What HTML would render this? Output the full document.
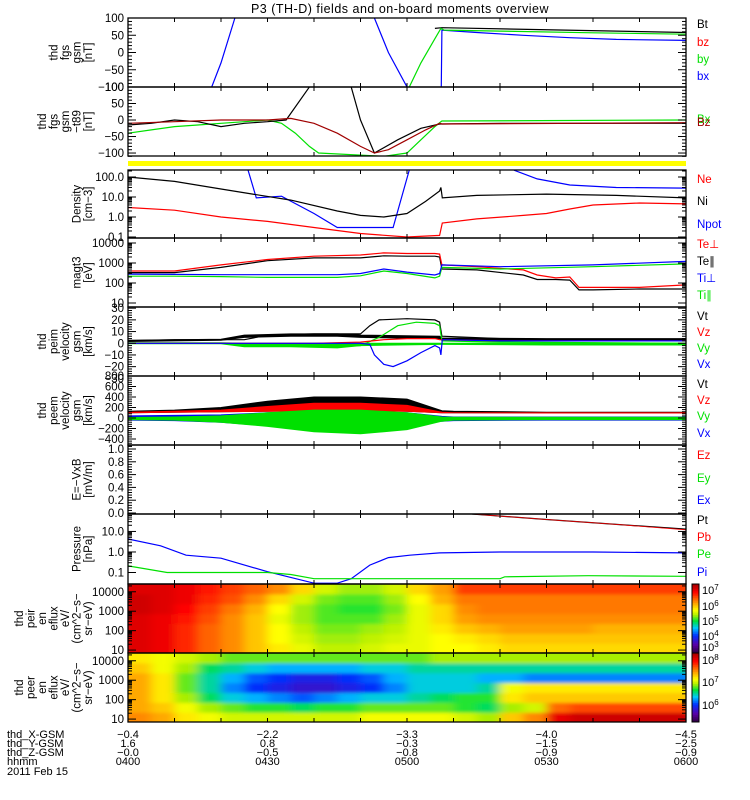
<!DOCTYPE html>
<html><head><meta charset="utf-8"><title>THEMIS overview</title>
<style>
html,body{margin:0;padding:0;background:#fff;}
svg{display:block;font-family:"Liberation Sans",sans-serif;}
</style></head>
<body>
<svg id="chart" width="750" height="800" viewBox="0 0 750 800" xmlns="http://www.w3.org/2000/svg">
<rect width="750" height="800" fill="#fff"/>
<text x="400" y="13" font-size="12.5" text-anchor="middle" letter-spacing="0.5">P3 (TH-D) fields and on-board moments overview</text>
<g id="specs"></g><g id="lines"></g><g id="axes"></g><g id="labels"></g>
</svg>
<script>
// ---------- data arrays ----------
// time in minutes after 04:00
const p1BxT=[0,18,20,23,26,30,40,50,53,56,60,62,67.3,67.5,75,85,95,105,120];
const p1BxV=[-300,-100,-30,100,200,300,350,250,100,0,-100,-200,-200,65,58,50,43,38,35];
const p1ByT=[0,55,60.5,63,66,67.3,68,80,100,120];
const p1ByV=[-300,-300,-100,-30,40,70,65,62,57,53];
const p1BtT=[66,67.5,120];
const p1BtV=[70,72,58];
const p2BtT=[0,5,10,15,20,25,30,34,39,42,46,50,53,58,63,67,67.5,80,120];
const p2BtV=[-15,-10,0,-5,-20,-10,-5,0,100,200,200,0,-100,-60,-25,-12,-12,-10,-10];
const p2BzT=[0,10,20,30,35,40,45,50,53,56,60,64,67,67.5,120];
const p2BzV=[-10,-5,0,0,5,-10,-40,-80,-100,-90,-60,-30,-10,-12,-8];
const p2BxT=[0,5,10,15,20,25,30,33,36,39,41,55,60,63,66,67.3,67.5,120];
const p2BxV=[-40,-30,-20,-15,-10,-5,0,-10,-40,-80,-100,-110,-100,-60,-20,-5,-3,0];
const niT=[0,10,20,26,35,45,50,55,60,64,67,67.3,67.6,75,90,105,120];
const niV=[100,60,25,15,7,2,1.2,1.0,1.5,6,20,30,9,12,14,12,9];
const neT=[0,10,20,30,40,50,60,67,67.6,75,85,90,95,100,110,120];
const neV=[3,2.2,1,0.6,0.3,0.15,0.1,0.12,0.5,0.8,1.2,1.5,2.5,4,5,4.5];
const npot1T=[25.8,27.6,33,40,45,57,60.5];
const npot1V=[224,9,11,1.5,0.3,0.3,224];
const npot2T=[83,88,95,105,120];
const npot2V=[220,80,40,30,28];
const tempT=[0,10,20,30,40,50,55,60,66,67,67.5,75,85,88,92,95,97,100,110,120];
const tePerpV=[400,400,800,1500,2200,2500,3200,3000,3000,2800,800,650,450,250,180,200,60,60,60,80];
const teParV=[330,330,600,1300,1800,1800,2300,2200,2200,2000,500,450,250,150,150,140,45,45,50,50];
const tiT=[0,10,20,30,40,45,50,55,60,66,67,67.5,80,100,120];
const tiPerpV=[280,270,260,260,260,260,300,500,350,250,300,800,650,800,1200];
const tiParV=[220,220,210,190,190,190,230,400,300,180,220,600,500,650,900];
const vtT=[0,10,20,25,30,40,45,50,52,54,60,66,67,67.5,80,100,120];
const vtV=[2,3,3,3,7,8,8,8,15,20,21,20,18,6,4,3,3];
const vzT=[0,20,40,50,55,60,66,67,80,120];
const vzV=[0,0,0,1,3,4,4,3,2,2];
const vyT=[0,20,30,40,50,54,58,62,66,67,67.5,80,120];
const vyV=[0,0,-1,-2,-2,5,15,18,17,15,2,1,0];
const vxT=[0,40,50,52,53,55,57,60,63,66,67,67.3,67.6,80,120];
const vxV=[0,0,0,-1,-10,-18,-20,-15,-8,-2,-4,-10,3,2,2];
const noiseT=[0,20,25,35,45,50,67,67.5,90,120];
const vtHi=[2.5,3.5,7,8,8,7,6,4.5,4,4];
const vtLo=[1.5,2.5,5,6,6,5,4,3,2.5,2.5];
const vyLo=[-0.5,-0.5,-3,-3,-4,-2,-1,-1,-1.5,-1.5];
const vyHi=[0.5,0.5,0,0,0,0,0,0,0,0];
const eT=[0,10,20,30,40,50,60,67.5,70,90,120];
const eeVtHi=[130,150,200,320,400,400,360,140,130,110,110];
const eeVtLo=[100,110,120,130,140,140,130,100,100,100,100];
const eeVzHi=[110,130,150,220,280,280,240,110,100,95,95];
const eeVxLo=[-40,-50,-80,-150,-200,-180,-130,-60,-50,-40,-40];
const eeVxHi=[40,50,60,100,120,120,100,30,20,20,20];
const eeVyLo=[-30,-40,-80,-160,-260,-300,-220,-60,-40,-30,-30];
const eeVyHi=[10,20,40,100,150,150,100,20,15,15,15];
const ptT=[74,90,105,120];
const ptV=[71,38,22,13];
const pbV=[71,38,22,12];
const piT=[0,7,12.5,20,30,40,45,48,52,56,60.6,67,80,100,120];
const piV=[4.3,2.0,0.7,0.5,0.11,0.03,0.03,0.05,0.23,0.53,0.7,0.9,1.0,1.0,0.9];
const peT=[0,8.4,20,30,35,40,60,80,81,99,120];
const peV=[0.21,0.1,0.1,0.1,0.08,0.05,0.05,0.05,0.062,0.07,0.065];
// spectrogram: 24 time bins (5 min), rows low->high energy, log10 eflux
const ionSpec=[
[6.9,6.8,6.5,6.2,6.0,5.7,5.5,5.3,5.1,5.1,5.2,5.3,5.3,5.4,5.4,5.5,5.6,5.6,5.6,5.6,5.6,5.6,5.6,5.6],
[6.9,6.8,6.5,6.2,6.0,5.7,5.4,5.2,5.0,5.0,5.1,5.2,5.3,5.4,5.5,5.6,5.7,5.7,5.7,5.7,5.7,5.7,5.7,5.7],
[6.9,6.8,6.5,6.2,6.0,5.7,5.4,5.1,4.9,4.9,5.0,5.1,5.3,5.5,5.7,5.8,5.9,5.9,5.9,5.9,5.8,5.8,5.8,5.8],
[6.9,6.8,6.6,6.3,6.0,5.7,5.3,5.0,4.8,4.8,4.8,5.0,5.3,5.6,5.9,6.0,6.0,6.0,6.0,6.0,6.0,6.0,6.0,6.0],
[7.0,6.9,6.7,6.4,6.1,5.8,5.4,5.0,4.8,4.7,4.7,4.9,5.3,5.6,6.0,6.1,6.1,6.1,6.1,6.1,6.1,6.1,6.1,6.1],
[7.0,6.9,6.8,6.5,6.3,6.0,5.6,5.2,4.9,4.8,4.8,5.0,5.4,5.8,6.1,6.1,6.1,6.1,6.1,6.1,6.1,6.1,6.1,6.1],
[6.9,6.9,6.8,6.6,6.4,6.2,6.0,5.6,5.2,5.0,5.0,5.2,5.6,5.9,6.4,6.4,6.4,6.4,6.4,6.4,6.4,6.4,6.4,6.4]];
const eleSpec=[
[7.4,7.3,7.1,7.0,6.9,6.9,6.9,6.9,6.9,6.9,7.0,7.0,7.0,7.0,6.9,6.8,7.2,7.4,7.9,8.0,8.0,8.0,8.0,8.0],
[7.3,7.2,7.0,6.8,6.7,6.6,6.6,6.5,6.6,6.6,6.7,6.7,6.7,6.7,6.6,6.5,6.8,6.9,7.5,7.6,7.6,7.6,7.6,7.6],
[7.3,7.1,6.8,6.5,6.3,6.2,6.1,6.0,6.1,6.2,6.3,6.3,6.4,6.5,6.6,6.6,7.1,7.2,7.2,7.2,7.2,7.2,7.2,7.2],
[7.3,7.1,6.7,6.4,6.1,5.9,5.8,5.7,5.7,5.8,5.9,6.1,6.3,6.3,6.3,6.4,7.0,7.1,7.1,7.1,7.1,7.1,7.1,7.1],
[7.3,7.1,6.7,6.4,6.2,6.0,5.9,5.8,5.8,5.9,6.0,6.2,6.3,6.3,6.3,6.2,6.2,6.1,6.1,6.1,6.1,6.1,6.1,6.1],
[7.2,7.0,6.8,6.5,6.4,6.3,6.2,6.2,6.2,6.2,6.3,6.3,6.4,6.4,6.4,6.4,6.4,6.4,6.4,6.4,6.4,6.4,6.4,6.4],
[7.1,7.0,6.9,6.8,6.7,6.7,6.7,6.7,6.7,6.7,6.7,6.7,6.7,6.8,6.8,6.8,6.8,6.8,6.8,6.8,6.8,6.8,6.8,6.8]];
const timeTickLabels=["0400","0430","0500","0530","0600"];
const xGsm=["-0.4","-2.2","-3.3","-4.0","-4.5"];
const yGsm=["1.6","0.8","-0.3","-1.5","-2.5"];
const zGsm=["-0.0","-0.5","-0.8","-0.9","-0.9"];

// ---------- geometry ----------
const NS="http://www.w3.org/2000/svg";
const X0=128,X1=686,TMAX=120;
const xT=t=>X0+t/TMAX*(X1-X0);
function mk(tag,attrs,parent){const e=document.createElementNS(NS,tag);for(const k in attrs)e.setAttribute(k,attrs[k]);(parent||document.getElementById('lines')).appendChild(e);return e;}
function linAxis(top,bot,vTop,vBot){return v=>top+(vTop-v)/(vTop-vBot)*(bot-top);}
function logAxis(top,bot,lTop,lBot){return v=>top+(lTop-Math.log10(Math.max(v,1e-6)))/(lTop-lBot)*(bot-top);}
const panels=[
 {id:'fgs',top:18,bot:87,y:linAxis(18,87,100,-100),ticks:[100,50,0,-50,-100],fmt:v=>v==0?'0':(v<0?'\u2212'+(-v):''+v),title:['thd','fgs','gsm','[nT]']},
 {id:'fgs-t89',top:87,bot:156,y:linAxis(87,156,100,-109),ticks:[100,50,0,-50,-100],fmt:v=>v==0?'0':(v<0?'\u2212'+(-v):''+v),title:['thd','fgs','gsm','\u2212t89','[nT]']},
 {id:'density',top:170,bot:238,y:logAxis(170,238,2.35,-1.05),ticks:[100,10,1,0.1],fmt:v=>v>=1?v.toFixed(1):'0.1',title:['Density','[cm\u22123]']},
 {id:'temperature',top:238,bot:307,y:logAxis(238,307,4.25,0.8),ticks:[10000,1000,100,10],fmt:v=>''+v,title:['magt3','[eV]']},
 {id:'ion-velocity',top:307,bot:376,y:linAxis(307,376,31,-28),ticks:[30,20,10,0,-10,-20,-30],fmt:v=>v==0?'0':(v<0?'\u2212'+(-v):''+v),title:['thd','peim','velocity','gsm','[km/s]']},
 {id:'electron-velocity',top:376,bot:445,y:linAxis(376,445,800,-514),ticks:[800,600,400,200,0,-200,-400],fmt:v=>v==0?'0':(v<0?'\u2212'+(-v):''+v),title:['thd','peem','velocity','gsm','[km/s]']},
 {id:'efield',top:445,bot:514,y:linAxis(449,513,1,0),ticks:[1,0.8,0.6,0.4,0.2,0],fmt:v=>v.toFixed(1),title:['E=\u2212VxB','[mV/m]']},
 {id:'pressure',top:514,bot:584,y:logAxis(514,584,1.85,-1.56),ticks:[10,1,0.1],fmt:v=>v.toFixed(1),title:['Pressure','[nPa]']},
 {id:'ion-spectrogram',top:584,bot:653,y:logAxis(584,653,4.4,0.85),ticks:[10000,1000,100,10],fmt:v=>''+v,title:['thd','peir','en','eflux','eV/','(cm^2\u2212s\u2212','sr\u2212eV)']},
 {id:'electron-spectrogram',top:653,bot:722,y:logAxis(653,722,4.4,0.85),ticks:[10000,1000,100,10],fmt:v=>''+v,title:['thd','peer','en','eflux','eV/','(cm^2\u2212s\u2212','sr\u2212eV)']}
];
const P={};panels.forEach(p=>P[p.id]=p);
const defs=mk('defs',{},document.getElementById('chart'));
panels.forEach(p=>{const c=mk('clipPath',{id:'clip-'+p.id},defs);mk('rect',{x:X0,y:p.top,width:X1-X0,height:p.bot-p.top},c);});
const flt=mk('filter',{id:'soft',x:'-5%',y:'-5%',width:'110%',height:'110%'},defs);
mk('feGaussianBlur',{stdDeviation:'5 1.5'},flt);

function line(pid,ts,vs,color,name,w){
 const p=P[pid];const pts=ts.map((t,i)=>xT(t).toFixed(1)+','+p.y(vs[i]).toFixed(1)).join(' ');
 const el=mk('polyline',{points:pts,fill:'none',stroke:color,'stroke-width':w||1.2,'clip-path':'url(#clip-'+pid+')'});
 
 
}
function band(pid,ts,lo,hi,color,name){
 const p=P[pid];const up=ts.map((t,i)=>xT(t).toFixed(1)+','+p.y(hi[i]).toFixed(1));
 const dn=ts.map((t,i)=>xT(t).toFixed(1)+','+p.y(lo[i]).toFixed(1)).reverse();
 const el=mk('polygon',{points:up.concat(dn).join(' '),fill:color,stroke:color,'stroke-width':1,'clip-path':'url(#clip-'+pid+')'});
 
 
}
// ---------- colormap ----------
const cStops=[[0,[48,0,64]],[0.12,[90,0,170]],[0.25,[0,50,255]],[0.36,[0,200,255]],[0.46,[0,225,60]],[0.55,[180,240,0]],[0.62,[255,255,0]],[0.74,[255,140,0]],[0.88,[255,0,0]],[1,[160,0,0]]];
function cmap(u){u=Math.max(0,Math.min(1,u));for(let i=1;i<cStops.length;i++){if(u<=cStops[i][0]){const a=cStops[i-1],b=cStops[i],f=(u-a[0])/(b[0]-a[0]);return 'rgb('+a[1].map((c,k)=>Math.round(c+f*(b[1][k]-c))).join(',')+')';}}return 'rgb(160,0,0)';}
function spectro(pid,mat,lmin,lmax,name){
 const p=P[pid],g=document.getElementById('specs');const nR=mat.length,nC=mat[0].length;const h=(p.bot-p.top)/nR,w=(X1-X0)/nC;
 const outer=mk('g',{'clip-path':'url(#clip-'+pid+')'},g);
 const grp=mk('g',{filter:'url(#soft)'},outer);
 mat.forEach((row,r)=>row.forEach((v,c)=>{
  const x=xT(c*TMAX/nC)-(c==0?8:0), ww=w+0.6+(c==0||c==nC-1?8:0);
  const y=p.bot-(r+1)*h-(r==nR-1?4:0), hh=h+0.6+(r==0||r==nR-1?4:0);
  const cell=mk('rect',{x:x.toFixed(2),y:y.toFixed(2),width:ww.toFixed(2),height:hh.toFixed(2),fill:cmap((v-lmin)/(lmax-lmin))},grp);
  
  
 }));
 const cb=mk('g',{},g);
 const n=40;for(let i=0;i<n;i++){mk('rect',{x:692,y:(p.top+i*(p.bot-p.top)/n).toFixed(2),width:7,height:((p.bot-p.top)/n+0.5).toFixed(2),fill:cmap(1-(i+0.5)/n)},cb);}
 mk('rect',{x:692,y:p.top,width:7,height:p.bot-p.top,fill:'none',stroke:'#000','stroke-width':1},cb);
}
spectro('ion-spectrogram',ionSpec,2.3,7.3,'ion-energy-spectrogram');
spectro('electron-spectrogram',eleSpec,5.17,8.17,'electron-energy-spectrogram');

// ---------- series ----------
line('fgs',p1BxT,p1BxV,'#0000ff','fgs-bx-line');
line('fgs',p1BtT,p1BtV,'#000','fgs-bt-line');
line('fgs',p1ByT,p1ByV,'#00e000','fgs-by-line');
line('fgs-t89',p2BxT,p2BxV,'#00e000','t89-bx-line');
line('fgs-t89',p2BtT,p2BtV,'#000','t89-bt-line');
line('fgs-t89',p2BzT,p2BzV,'#a00000','t89-bz-line');
line('density',npot1T,npot1V,'#0000ff','npot-line-1');
line('density',npot2T,npot2V,'#0000ff','npot-line-2');
line('density',niT,niV,'#000','ni-line');
line('density',neT,neV,'#ff0000','ne-line');
line('temperature',tempT,teParV,'#000','te-par-line');
line('temperature',tempT,tePerpV,'#ff0000','te-perp-line');
line('temperature',tiT,tiParV,'#00e000','ti-par-line');
line('temperature',tiT,tiPerpV,'#0000ff','ti-perp-line');
band('ion-velocity',noiseT,vtLo,vtHi,'#000','vt-noise-band');
line('ion-velocity',vtT,vtV,'#000','vt-line');
band('ion-velocity',noiseT,vyLo,vyHi,'#00e000','vy-noise-band');
line('ion-velocity',vyT,vyV,'#00e000','vy-line');
line('ion-velocity',vzT,vzV,'#ff0000','vz-line');
line('ion-velocity',vxT,vxV,'#0000ff','vx-line');
band('electron-velocity',eT,eeVtLo,eeVtHi,'#000','e-vt-band');
band('electron-velocity',eT,eeVtLo,eeVzHi,'#ff0000','e-vz-band');
band('electron-velocity',eT,eeVxLo,eeVxHi,'#0000ff','e-vx-band');
band('electron-velocity',eT,eeVyLo,eeVyHi,'#00e000','e-vy-band');
line('pressure',ptT,ptV,'#000','pt-line');
line('pressure',ptT,pbV,'#ff0000','pb-line',0.8);
line('pressure',piT,piV,'#0000ff','pi-line');
line('pressure',peT,peV,'#00e000','pe-line');

// ---------- axes ----------
const ax=document.getElementById('axes'),lb=document.getElementById('labels');
const yb=mk('rect',{x:X0,y:161,width:X1-X0,height:5,fill:'#ffff00'},ax);

panels.forEach(p=>{
 const g=mk('g',{},ax);
 mk('rect',{x:X0,y:p.top,width:X1-X0,height:p.bot-p.top,fill:'none',stroke:'#000','stroke-width':1.3},g);
 for(let m=10;m<TMAX;m+=10){const x=xT(m);mk('line',{x1:x,y1:p.top,x2:x,y2:p.top+4,stroke:'#000'},g);mk('line',{x1:x,y1:p.bot,x2:x,y2:p.bot-4,stroke:'#000'},g);}
 const isLog=p.ticks[0]/p.ticks[1]==10;
 if(isLog){p.ticks.forEach(t=>{for(let k=1;k<=9;k++){const v=t*k;const y=p.y(v);if(y<p.top||y>p.bot)continue;const L=k==1?8:4;mk('line',{x1:X0,y1:y,x2:X0+L,y2:y,stroke:'#000'},g);mk('line',{x1:X1,y1:y,x2:X1-L,y2:y,stroke:'#000'},g);}});}
 else{const st=(p.ticks[0]-p.ticks[1])/5;for(let v=p.ticks[p.ticks.length-1]-5*st;v<=p.ticks[0]+5*st;v+=st){const y=p.y(v);if(y<p.top-0.5||y>p.bot+0.5)continue;const isMaj=p.ticks.some(t=>Math.abs(t-v)<st/2);const L=isMaj?8:4;mk('line',{x1:X0,y1:y,x2:X0+L,y2:y,stroke:'#000'},g);mk('line',{x1:X1,y1:y,x2:X1-L,y2:y,stroke:'#000'},g);}}
 p.ticks.forEach(t=>{const y=p.y(t);if(y<p.top-8||y>p.bot+8)return;const tx=mk('text',{x:X0-4,y:y+4,'font-size':11.5,'text-anchor':'end'},lb);tx.textContent=p.fmt(t);});
 const cy=(p.top+p.bot)/2;const n=p.title.length;const lh=11.5;
 const tg=mk('g',{},lb);
 p.title.forEach((s,i)=>{const x=92-(n-1-i)*lh;const tx=mk('text',{x:x,y:cy,'font-size':11.5,'text-anchor':'middle',transform:'rotate(-90 '+x+' '+cy+')'},tg);tx.textContent=s;});
});
const legends=[
 [[28,'Bt','#000'],[46,'bz','#ff0000'],[63,'by','#00e000'],[80,'bx','#0000ff']],
 [[123,'Bx','#00e000'],[126,'Bz','#a00000']],
 [[183,'Ne','#ff0000'],[205,'Ni','#000'],[228,'Npot','#0000ff']],
 [[248,'Te\u22a5','#ff0000'],[265,'Te\u2225','#000'],[282,'Ti\u22a5','#0000ff'],[299,'Ti\u2225','#00e000']],
 [[320,'Vt','#000'],[336,'Vz','#ff0000'],[352,'Vy','#00e000'],[368,'Vx','#0000ff']],
 [[388,'Vt','#000'],[404,'Vz','#ff0000'],[420,'Vy','#00e000'],[437,'Vx','#0000ff']],
 [[459,'Ez','#ff0000'],[482,'Ey','#00e000'],[504,'Ex','#0000ff']],
 [[524,'Pt','#000'],[541,'Pb','#ff0000'],[558,'Pe','#00e000'],[576,'Pi','#0000ff']]];
legends.forEach(group=>group.forEach(([y,s,c])=>{const t=mk('text',{x:697,y:y,'font-size':11.5,fill:c},lb);t.textContent=s;}));
[[594,'7'],[610,'6'],[625,'5'],[640,'4'],[651,'3']].forEach(([y,e])=>{const t=mk('text',{x:702,y:y,'font-size':11},lb);t.innerHTML='10<tspan dy="-4" font-size="8">'+e+'</tspan>';});
[[664,'8'],[686,'7'],[709,'6']].forEach(([y,e])=>{const t=mk('text',{x:702,y:y,'font-size':11},lb);t.innerHTML='10<tspan dy="-4" font-size="8">'+e+'</tspan>';});
const rowY=[738,747,756,765];
[['thd_X-GSM',xGsm],['thd_Y-GSM',yGsm],['thd_Z-GSM',zGsm],['hhmm',timeTickLabels]].forEach(([nm,arr],r)=>{
 const t=mk('text',{x:7,y:rowY[r],'font-size':11},lb);t.textContent=nm;
 arr.forEach((s,i)=>{const x=xT(i*30);const tt=mk('text',{x:x,y:rowY[r],'font-size':11,'text-anchor':'middle'},lb);tt.textContent=s.replace('-','\u2212');});
});
const dt=mk('text',{x:7,y:775,'font-size':11},lb);dt.textContent='2011 Feb 15';


</script>
</body></html>
